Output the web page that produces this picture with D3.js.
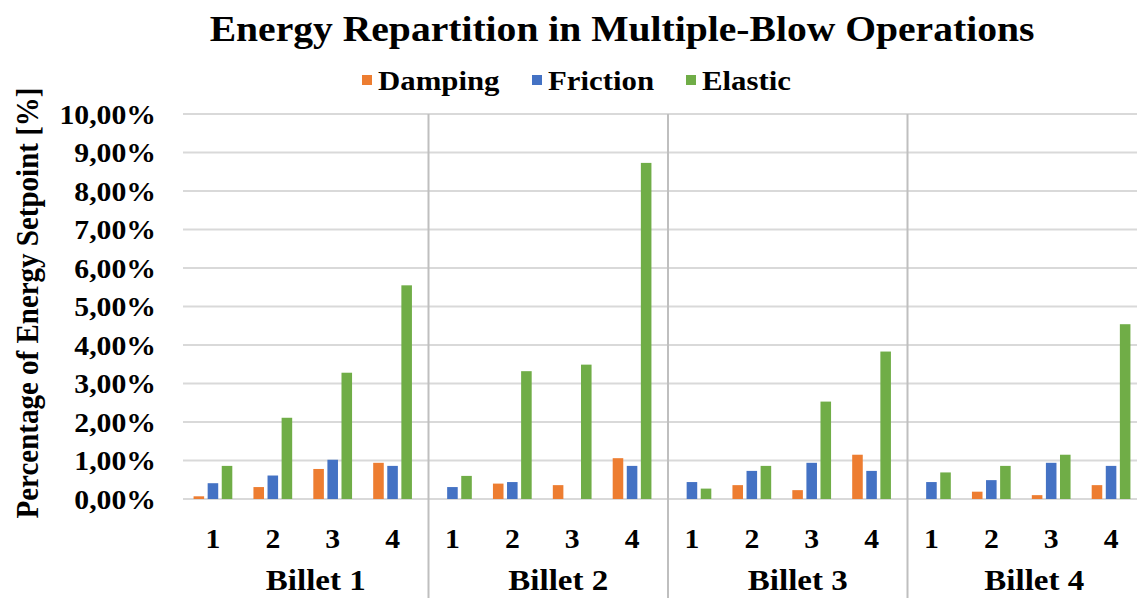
<!DOCTYPE html>
<html>
<head>
<meta charset="utf-8">
<script src="https://cdn.jsdelivr.net/npm/d3@7"></script>
<style>
  html, body { margin: 0; padding: 0; background: #fff; }
  svg { display: block; }
  text { font-family: "Liberation Serif", "Times New Roman", serif; font-weight: bold; fill: #000; }
</style>
</head>
<body>
<svg id="chart" width="1137" height="598"></svg>
<script>
// Billets and blows (multi-level category axis)
const billets = ["Billet 1", "Billet 2", "Billet 3", "Billet 4"];
const blows = ["1", "2", "3", "4"];
const seriesNames = ["Damping", "Friction", "Elastic"];
const seriesColors = ["#ED7D31", "#4472C4", "#70AD47"];

// Share of the energy setpoint (fraction), listed billet by billet, blow 1..4
const damping  = [0.0007, 0.0031, 0.0078, 0.0094,  0.0000, 0.0040, 0.0036, 0.0106,  0.0000, 0.0036, 0.0023, 0.0115,  0.0000, 0.0019, 0.0010, 0.0036];
const friction = [0.0041, 0.0061, 0.0102, 0.0086,  0.0031, 0.0044, 0.0000, 0.0086,  0.0044, 0.0073, 0.0094, 0.0073,  0.0044, 0.0049, 0.0094, 0.0086];
const elastic  = [0.0086, 0.0211, 0.0328, 0.0555,  0.0060, 0.0332, 0.0349, 0.0873,  0.0027, 0.0086, 0.0253, 0.0383,  0.0069, 0.0086, 0.0115, 0.0454];

const yTicks = [0, 0.01, 0.02, 0.03, 0.04, 0.05, 0.06, 0.07, 0.08, 0.09, 0.10];

const seriesValues = [damping, friction, elastic];
const slots = [];
billets.forEach((b, bi) => blows.forEach((w, wi) => slots.push({ billet: b, blow: w, idx: bi * blows.length + wi })));

const svg = d3.select("#chart");
const plot = { left: 183, right: 1141, top: 114, bottom: 499 };
const stretch = 1.1; // slightly wide lettering

const x0 = d3.scaleBand().domain(slots.map(d => d.idx)).range([plot.left, plot.right]).paddingInner(0).paddingOuter(0);
const x1 = d3.scaleBand().domain(seriesNames).range([0, x0.bandwidth()]).paddingInner(0.25).paddingOuter(0.75);
const y = d3.scaleLinear().domain([0, 0.10]).range([plot.bottom, plot.top]);

const fmt = v => d3.format(".2f")(v * 100).replace(".", ",") + "%";

// place a text node at (x, y) with horizontal stretch
function placeText(sel, x, yv) {
  return sel.attr("transform", `translate(${x},${yv}) scale(${stretch},1)`);
}

// Horizontal gridlines
svg.append("g")
  .selectAll("line").data(yTicks).join("line")
  .attr("x1", plot.left).attr("x2", plot.right)
  .attr("y1", d => y(d)).attr("y2", d => y(d))
  .attr("stroke", "#d9d9d9").attr("stroke-width", 2);

// Y axis tick labels
const yAxis = d3.axisLeft(y).tickValues(yTicks).tickFormat(fmt).tickSize(0).tickPadding(0);
const ya = svg.append("g").attr("transform", "translate(156,0)").call(yAxis);
ya.select(".domain").remove();
ya.selectAll("text").style("font-family", '"Liberation Serif", serif').style("font-weight", "bold")
  .style("font-size", "27px").attr("fill", "#000").attr("dy", "0.35em")
  .attr("x", 0).attr("transform", `scale(${stretch},1)`);

// Group separators
const groupEdges = billets.slice(1).map((b, i) => x0((i + 1) * blows.length) + 6);
svg.append("g")
  .selectAll("line").data(groupEdges).join("line")
  .attr("x1", d => d).attr("x2", d => d)
  .attr("y1", plot.top).attr("y2", 598)
  .attr("stroke", "#bfbfbf").attr("stroke-width", 2);

// Bars
const barGroup = svg.append("g");
seriesNames.forEach((name, si) => {
  barGroup.append("g")
    .selectAll("rect").data(slots).join("rect")
    .attr("x", d => x0(d.idx) + x1(name))
    .attr("width", x1.bandwidth())
    .attr("y", d => y(seriesValues[si][d.idx]))
    .attr("height", d => y(0) - y(seriesValues[si][d.idx]))
    .attr("fill", seriesColors[si]);
});

// Blow labels
svg.append("g")
  .selectAll("text").data(slots).join("text")
  .each(function (d) { placeText(d3.select(this), x0(d.idx) + x0.bandwidth() / 2, 548); })
  .attr("text-anchor", "middle")
  .style("font-size", "27px")
  .text(d => d.blow);

// Billet labels, centred between separators
const bounds = [plot.left, ...groupEdges, plot.right];
svg.append("g")
  .selectAll("text").data(billets).join("text")
  .each(function (d, i) { placeText(d3.select(this), (bounds[i] + bounds[i + 1]) / 2 + 10, 590); })
  .attr("text-anchor", "middle")
  .style("font-size", "30px")
  .text(d => d);

// Title
placeText(svg.append("text"), 622, 41)
  .attr("text-anchor", "middle")
  .style("font-size", "36px")
  .text("Energy Repartition in Multiple-Blow Operations");

// Legend
const legendX = [362, 532, 686];
const lg = svg.append("g");
seriesNames.forEach((name, i) => {
  lg.append("rect").attr("x", legendX[i]).attr("y", 75).attr("width", 10).attr("height", 10).attr("fill", seriesColors[i]);
  placeText(lg.append("text"), legendX[i] + 16, 90).style("font-size", "28px").text(name);
});

// Y axis title
svg.append("text")
  .attr("transform", "translate(38,303) rotate(-90) scale(1,1.1)")
  .attr("text-anchor", "middle")
  .style("font-size", "29px")
  .text("Percentage of Energy Setpoint [%]");
</script>
</body>
</html>
